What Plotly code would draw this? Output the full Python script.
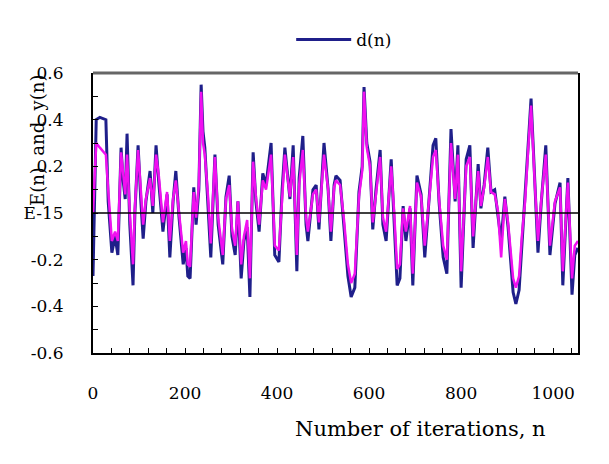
import plotly.graph_objects as go

n_iter = [0,4,7,15,28,33,41,48,54,61,65,70,74,80,87,91,98,104,109,115,124,130,137,143,152,161,167,174,180,187,
          196,202,206,211,219,224,230,235,239,243,250,256,265,272,282,289,296,302,309,315,322,328,335,341,348,354,
          361,369,376,387,395,404,411,417,428,435,443,448,456,463,467,478,485,491,502,511,517,524,528,537,545,554,
          561,569,578,585,589,595,602,608,615,624,630,637,648,654,661,667,674,680,689,695,704,713,721,730,739,745,
          752,761,769,778,787,793,800,811,819,826,837,843,850,858,865,873,880,887,895,902,913,919,926,932,939,945,
          952,960,967,974,984,993,1004,1015,1021,1032,1041,1047,1054]

d_n = [-0.27,0.10,0.40,0.41,0.40,0.05,-0.17,-0.10,-0.18,0.28,0.15,0.06,0.34,-0.05,-0.31,0.00,0.29,0.05,-0.11,0.05,
       0.18,0.00,0.29,0.13,-0.08,0.08,-0.19,0.05,0.18,-0.02,-0.22,-0.15,-0.27,-0.28,0.11,-0.05,0.10,0.55,0.35,0.28,
       0.05,-0.19,0.25,-0.05,-0.22,0.07,0.16,-0.10,-0.18,0.05,-0.28,-0.12,-0.06,-0.36,0.26,0.05,-0.08,0.17,0.12,0.30,
       -0.18,-0.21,0.10,0.28,0.06,0.29,-0.25,0.15,0.33,-0.05,-0.12,0.10,0.12,-0.07,0.30,0.10,-0.12,0.12,0.16,0.14,
       -0.05,-0.27,-0.36,-0.32,0.09,0.20,0.54,0.30,0.22,-0.07,0.10,0.27,-0.05,-0.12,0.23,0.00,-0.31,-0.28,0.03,-0.12,
       0.02,-0.31,0.16,0.08,-0.19,0.05,0.29,0.32,0.05,-0.19,-0.26,0.36,0.05,0.29,-0.32,0.23,0.29,-0.15,0.21,0.02,
       0.12,0.28,0.09,0.10,-0.01,-0.12,0.07,-0.06,-0.34,-0.39,-0.33,-0.14,0.04,0.28,0.49,0.14,-0.17,0.04,0.29,-0.18,
       0.04,0.13,-0.31,0.15,-0.35,-0.18,-0.15]

y_n = [0.00,0.15,0.30,0.28,0.25,0.10,-0.12,-0.08,-0.12,0.26,0.18,0.08,0.25,0.00,-0.22,0.02,0.27,0.08,-0.05,0.06,
       0.15,0.03,0.25,0.16,-0.04,0.09,-0.12,0.06,0.14,0.00,-0.17,-0.12,-0.22,-0.23,0.09,-0.02,0.12,0.52,0.30,0.25,
       0.07,-0.13,0.24,-0.02,-0.18,0.06,0.12,-0.07,-0.14,0.05,-0.22,-0.10,-0.03,-0.28,0.22,0.07,-0.05,0.14,0.10,0.25,
       -0.14,-0.16,0.08,0.25,0.07,0.24,-0.18,0.12,0.27,-0.02,-0.08,0.08,0.10,-0.04,0.25,0.10,-0.08,0.11,0.14,0.12,
       -0.02,-0.22,-0.30,-0.26,0.07,0.18,0.52,0.28,0.20,-0.04,0.08,0.24,-0.02,-0.08,0.20,0.02,-0.24,-0.22,0.02,-0.08,
       0.03,-0.26,0.13,0.07,-0.14,0.05,0.24,0.27,0.06,-0.14,-0.20,0.30,0.06,0.25,-0.25,0.20,0.24,-0.10,0.18,0.03,
       0.11,0.24,0.09,0.08,0.01,-0.19,0.06,-0.04,-0.28,-0.32,-0.27,-0.10,0.05,0.25,0.46,0.13,-0.12,0.05,0.25,-0.14,
       0.05,0.11,-0.25,0.13,-0.28,-0.14,-0.12]

x_tick_vals = [0, 200, 400, 600, 800, 1000]
y_tick_vals = [0.6, 0.4, 0.2, 0, -0.2, -0.4, -0.6]
y_tick_text = ["0.6", "0.4", "0.2", "E-15", "-0.2", "-0.4", "-0.6"]

FONT = "DejaVu Serif"

fig = go.Figure()
fig.add_trace(go.Scatter(x=n_iter, y=d_n, mode="lines", name="d(n)",
                         line=dict(color="#1f1f8a", width=3)))
fig.add_trace(go.Scatter(x=n_iter, y=y_n, mode="lines", name="y(n)", showlegend=False,
                         line=dict(color="#f010f0", width=2.5)))

fig.update_layout(
    width=609, height=464,
    margin=dict(l=85, r=39, t=65, b=119, autoexpand=False),
    paper_bgcolor="white", plot_bgcolor="white",
    font=dict(family=FONT, size=17, color="black"),
    showlegend=True,
    legend=dict(orientation="h", x=0.465, y=0.931, xref="container", yref="container",
                xanchor="left", yanchor="middle", itemwidth=55,
                font=dict(family=FONT, size=17), bgcolor="rgba(0,0,0,0)"),
    xaxis=dict(range=[0, 1054], tickvals=x_tick_vals, ticks="inside", ticklen=5,
               tickcolor="black", showgrid=False, zeroline=False, automargin=False,
               showline=True, linecolor="black", linewidth=2, mirror=False,
               minor=dict(dtick=40, tick0=0, ticks="inside", ticklen=5, tickcolor="black"),
               ticklabelstandoff=24, tickfont=dict(family=FONT, size=17)),
    yaxis=dict(range=[-0.6, 0.6], tickvals=y_tick_vals, ticktext=y_tick_text, automargin=False,
               ticks="inside", ticklen=5, tickcolor="black", showgrid=False, zeroline=False,
               showline=True, linecolor="black", linewidth=2, mirror=True,
               minor=dict(dtick=0.1, tick0=0, ticks="inside", ticklen=5, tickcolor="black"),
               ticklabelstandoff=24, tickfont=dict(family=FONT, size=17)),
    shapes=[
        dict(type="line", xref="paper", yref="y", x0=0, x1=1, y0=0, y1=0,
             line=dict(color="black", width=1.5), layer="above"),
        dict(type="line", xref="paper", yref="paper", x0=0, x1=1, y0=1, y1=1,
             line=dict(color="#666666", width=3), layer="above"),
    ],
    annotations=[
        dict(text="E(n)  and  y(n)", xref="paper", yref="y", x=-0.115, y=0.31,
             xanchor="center", yanchor="middle", textangle=-90, showarrow=False,
             font=dict(family=FONT, size=18)),
        dict(text="Number of iterations, n", xref="paper", yref="paper", x=0.676, y=-0.27,
             xanchor="center", yanchor="middle", showarrow=False,
             font=dict(family=FONT, size=21)),
    ],
)

fig.write_html("out.html")
